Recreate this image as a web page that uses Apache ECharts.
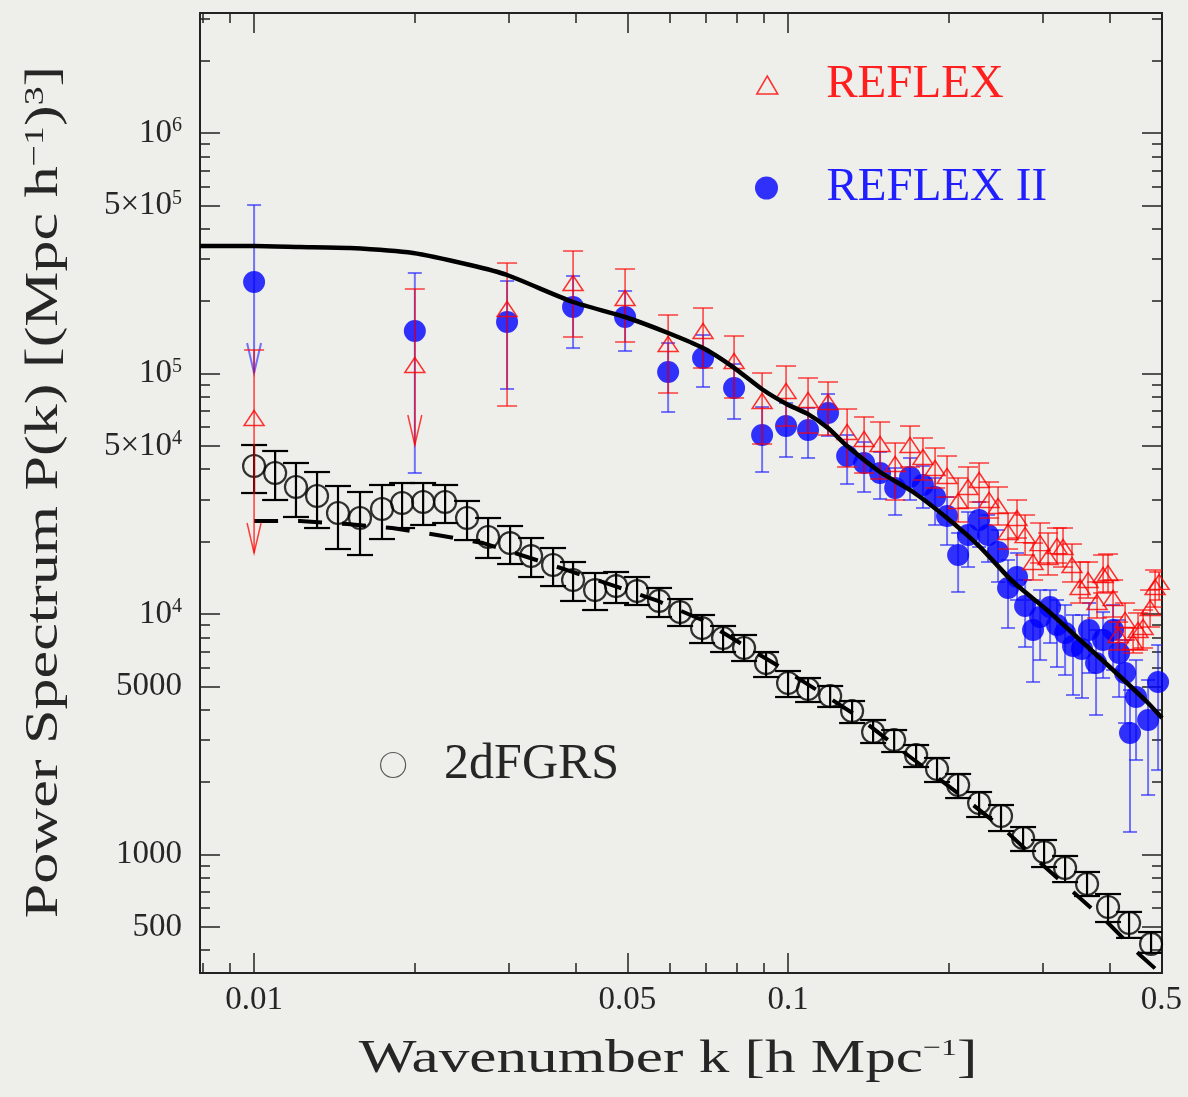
<!DOCTYPE html>
<html>
<head>
<meta charset="utf-8">
<title>Power spectrum: REFLEX, REFLEX II and 2dFGRS</title>
<script src="https://cdn.jsdelivr.net/npm/echarts@6/dist/echarts.min.js"></script>
<style>
  html, body { margin: 0; padding: 0; background: #eeefea; }
  #chart { width: 1188px; height: 1097px; }
</style>
</head>
<body>
<div id="chart"></div>
<script>
// ---- axis ranges and ticks ----
const kRange = [0.00792, 0.5015];
const pRange = [321.6, 3.155e6];

const xMajorTicks = [0.01, 0.05, 0.1, 0.5];
const xMajorText = ['0.01', '0.05', '0.1', '0.5'];
const xMinorTicks = [0.008, 0.009, 0.02, 0.03, 0.04, 0.06, 0.07, 0.08, 0.09, 0.2, 0.3, 0.4];

const yMajorTicks = [500, 1000, 5000, 1e4, 5e4, 1e5, 5e5, 1e6];
const yMajorText = ['500', '1000', '5000', '{m|10}{e|4}', '{m|5×10}{e|4}', '{m|10}{e|5}', '{m|5×10}{e|5}', '{m|10}{e|6}'];
const yMinorTicks = [400, 600, 700, 800, 900, 2000, 3000, 4000, 6000, 7000, 8000, 9000,
  2e4, 3e4, 4e4, 6e4, 7e4, 8e4, 9e4, 2e5, 3e5, 4e5, 6e5, 7e5, 8e5, 9e5, 2e6, 3e6];

// ---- 2dFGRS galaxy power spectrum ----
const twodfK = [0.01000, 0.01095, 0.01198, 0.01312, 0.01436, 0.01579, 0.01736, 0.01893, 0.02073, 0.02279,
  0.02505, 0.02743, 0.03016, 0.03302, 0.03630, 0.03957, 0.04351, 0.04764, 0.05215, 0.05733,
  0.06278, 0.06902, 0.07556, 0.08272, 0.09095, 0.1000, 0.1090, 0.1199, 0.1318, 0.1443,
  0.1580, 0.1737, 0.1901, 0.2082, 0.2279, 0.2505, 0.2755, 0.3016, 0.3302, 0.3630,
  0.3974, 0.4351, 0.4784];
const twodfP = [41250, 38570, 33740, 30950, 26300, 25070, 27330, 28940, 29220, 29220,
  25070, 20900, 19730, 17420, 15990, 13850, 12580, 13070, 12460, 11330,
  10190, 8744, 7946, 7223, 6254, 5165, 4877, 4560, 3952, 3231,
  2993, 2593, 2267, 1945, 1637, 1446, 1171, 1024, 879, 754,
  605, 519, 425];
const twodfHi = [50430, 47620, 42450, 38940, 34060, 32160, 34390, 35050, 35050, 34390,
  29510, 25070, 23220, 20700, 18810, 16450, 14810, 14950, 14250, 12830,
  11540, 9905, 8916, 8179, 6950, 5794, 5418, 5020, 4347, 3625,
  3293, 2853, 2520, 2162, 1819, 1606, 1301, 1149, 986, 846,
  685, 577, 476];
const twodfLo = [31850, 29790, 25320, 22780, 18630, 17590, 20500, 22780, 23450, 23900,
  20300, 17100, 16140, 14250, 13070, 11330, 10390, 11110, 10900, 9717,
  8916, 7575, 6950, 6375, 5470, 4517, 4306, 4106, 3521, 2908,
  2668, 2311, 2002, 1717, 1432, 1252, 1034, 887, 768, 672,
  524, 450, 390];

// ---- REFLEX cluster power spectrum ----
const reflexK = [0.01, 0.02, 0.02977, 0.03957, 0.04952, 0.05962, 0.06931, 0.07923, 0.08941, 0.09914,
  0.1090, 0.1188, 0.1290, 0.1388, 0.1487, 0.1587, 0.1692, 0.1789, 0.1885, 0.1985,
  0.2082, 0.2173, 0.2279, 0.2379, 0.2473, 0.2582, 0.2684, 0.2779, 0.2876, 0.2965,
  0.3069, 0.3189, 0.3273, 0.3402, 0.3523, 0.3646, 0.3790, 0.3890, 0.3974, 0.4061,
  0.4150, 0.4277, 0.4427, 0.4523, 0.4622, 0.4764, 0.4868, 0.4953];
const reflexP = [65310, 108470, 185430, 237850, 206000, 132630, 150200, 112700, 76870, 84580,
  77600, 76130, 57120, 53420, 50920, 42050, 50430, 44960, 40470, 37490,
  29510, 33740, 36070, 29790, 28130, 21930, 25070, 21300, 16450, 19730,
  17260, 19170, 18990, 15990, 12950, 13850, 11220, 14530, 14810, 11655,
  8179, 9442, 7649, 8580, 8829, 10590, 12950, 13590];
const reflexHi = [125250, 224600, 288000, 323100, 271960, 175100, 187200, 143200, 100480, 107440,
  95790, 92200, 71190, 65950, 62860, 51400, 60480, 53930, 49000, 45390,
  36770, 40860, 42450, 35390, 33740, 26300, 29790, 25800, 19730, 23900,
  21720, 22780, 22780, 19540, 16450, 16450, 13590, 17590, 17760, 13850,
  9263, 11110, 8744, 10100, 10390, 12580, 15240, 14950];
const reflexLo = [17930, 50430, 73270, 141830, 135210, 82970, 105400, 79100, 50920, 60480,
  56560, 55490, 40860, 38570, 36420, 29790, 40860, 36070, 33420, 30650,
  24130, 27590, 29220, 25070, 23450, 18630, 20700, 17590, 13850, 16300,
  14530, 16300, 15680, 13590, 11110, 11655, 9625, 12230, 12350, 9717,
  7085, 7796, 6885, 7085, 7223, 8829, 10690, 11435];
// bins whose lower end is an upper-limit arrow
const reflexLimitK = [0.01, 0.02];

// ---- REFLEX II cluster power spectrum ----
const reflex2K = [0.01, 0.02, 0.02977, 0.03957, 0.04952, 0.05962, 0.06931, 0.07923, 0.08941, 0.09914,
  0.1090, 0.1188, 0.1290, 0.1388, 0.1487, 0.1587, 0.1692, 0.1789, 0.1885, 0.1985,
  0.2082, 0.2173, 0.2279, 0.2369, 0.2473, 0.2582, 0.2684, 0.2779, 0.2876, 0.2965,
  0.3095, 0.3189, 0.3302, 0.3417, 0.3552, 0.3661, 0.3774, 0.3890, 0.4061, 0.4168,
  0.4277, 0.4369, 0.4484, 0.4723, 0.4931];
const reflex2P = [240200, 150200, 163760, 189000, 171800, 101440, 115990, 87030, 55490, 60480,
  58230, 68530, 45390, 42450, 38570, 33420, 37130, 34390, 30650, 25560,
  17590, 21300, 24600, 21300, 18110, 12830, 14250, 10800, 8580, 9717,
  10690, 9000, 8337, 7362, 7153, 8580, 6254, 7796, 8580, 6885,
  5685, 3199, 4517, 3625, 5217];
const reflex2Hi = [501800, 261800, 242500, 254400, 220300, 133880, 144600, 109520, 72560, 75390,
  71870, 82180, 55490, 51890, 47160, 40470, 44530, 41250, 36770, 30650,
  21720, 26550, 29220, 25800, 22350, 16770, 17930, 13850, 11435, 12580,
  12580, 11435, 10900, 9905, 9905, 11110, 8580, 10190, 10900, 9442,
  7796, 4831, 6436, 5317, 7431];
const reflex2Lo = [100480, 38570, 86220, 127600, 124050, 69180, 87880, 64700, 38940, 44960,
  44530, 54960, 34720, 32160, 30080, 25800, 29790, 27590, 23450, 19360,
  12350, 15680, 18990, 16450, 13590, 8744, 11435, 7292, 5217, 6436,
  7575, 6020, 5577, 4605, 4474, 5685, 3802, 5418, 5851, 4517,
  3521, 1241, 2471, 1768, 2245];
const reflex2LimitK = [0.01];

// ---- model curves ----
const clusterModelK = [0.00792, 0.01, 0.01219, 0.01512, 0.01985, 0.02538, 0.02977, 0.03957, 0.04952, 0.05962,
  0.06931, 0.07889, 0.08941, 0.09957, 0.1090, 0.1188, 0.1290, 0.1487, 0.1714, 0.1985,
  0.2289, 0.2639, 0.3055, 0.3523, 0.4061, 0.4702, 0.5015];
const clusterModelP = [338900, 338900, 335700, 332500, 316960, 282500, 256800, 198300, 171800, 147400,
  127600, 106400, 86000, 74500, 67800, 59340, 49940, 38940, 32160, 25070,
  18990, 13590, 10390, 7796, 5851, 4306, 3695];

const galaxyModelK = [0.01, 0.01219, 0.01494, 0.01813, 0.02201, 0.02685, 0.03245, 0.03906, 0.04742, 0.05707,
  0.06902, 0.08131, 0.09660, 0.1148, 0.1346, 0.1573, 0.1845, 0.2173, 0.2571, 0.2926,
  0.3402, 0.3957, 0.4562, 0.4972];
const galaxyModelP = [24360, 24360, 23670, 22780, 21300, 19730, 17260, 15090, 13070, 11330,
  9442, 7575, 6020, 4738, 3766, 2881, 2203, 1669, 1241, 949,
  705, 524, 382, 322];

// ---- styling ----
const SERIF = '"Liberation Serif", "DejaVu Serif", serif';
const INK = '#262626';
const FRAME = '#222222';
const RED = '#ff0000';
const RED_BAR = 'rgba(255,0,0,0.75)';
const BLUE = '#0000ff';
const BLUE_BAR = 'rgba(30,30,255,0.6)';

const rows = (k, p) => k.map((v, i) => [v, p[i]]);
const barRows = (k, p, lo, hi, limits) =>
  k.map((v, i) => [v, p[i], lo[i], hi[i], limits.indexOf(v) >= 0 ? 1 : 0]);

function tickText(ticks, texts) {
  return function (v) {
    for (let i = 0; i < ticks.length; i++) {
      if (Math.abs(ticks[i] - v) / ticks[i] < 1e-6) return texts[i];
    }
    return '';
  };
}

// vertical error bar with caps; a flagged lower end becomes an arrow
function errorBars(capHalf, color, width) {
  return function (params, api) {
    const k = api.value(0);
    const top = api.coord([k, api.value(3)]);
    const bot = api.coord([k, api.value(2)]);
    const st = { stroke: color, lineWidth: width, fill: null };
    const kids = [
      { type: 'line', shape: { x1: top[0], y1: top[1], x2: bot[0], y2: bot[1] }, style: st },
      { type: 'line', shape: { x1: top[0] - capHalf, y1: top[1], x2: top[0] + capHalf, y2: top[1] }, style: st }
    ];
    if (api.value(4) === 1) {
      kids.push({ type: 'polyline',
        shape: { points: [[bot[0] - 7, bot[1] - 30], [bot[0], bot[1]], [bot[0] + 7, bot[1] - 30]] },
        style: st });
    } else {
      kids.push({ type: 'line', shape: { x1: bot[0] - capHalf, y1: bot[1], x2: bot[0] + capHalf, y2: bot[1] }, style: st });
    }
    return { type: 'group', children: kids };
  };
}

function logAxis(position, range, ticks, len, showLine, label) {
  return {
    type: 'log', logBase: 10, position: position, gridIndex: 0,
    min: range[0], max: range[1],
    splitLine: { show: false },
    axisPointer: { show: false },
    axisLine: { show: showLine, onZero: false, lineStyle: { color: FRAME, width: 2 } },
    axisTick: { show: true, inside: true, length: len, customValues: ticks,
      lineStyle: { color: FRAME, width: 1.5 } },
    axisLabel: label || { show: false }
  };
}

const xLabel = {
  show: true, customValues: xMajorTicks, formatter: tickText(xMajorTicks, xMajorText),
  margin: 11, color: INK, fontFamily: SERIF, fontSize: 33
};
const yLabel = {
  show: true, customValues: yMajorTicks, formatter: tickText(yMajorTicks, yMajorText),
  margin: 18, color: INK, fontFamily: SERIF, fontSize: 33,
  rich: {
    m: { fontFamily: SERIF, fontSize: 33, color: INK, lineHeight: 34 },
    e: { fontFamily: SERIF, fontSize: 20, color: INK, verticalAlign: 'top' }
  }
};

const TRIANGLE_ICON = 'path://M10.5,0L21,18L0,18Z';

const option = {
  backgroundColor: '#eeefea',
  animation: false,
  grid: { left: 200, right: 26, top: 13, bottom: 124, containLabel: false, outerBoundsMode: 'none' },
  xAxis: [
    logAxis('bottom', kRange, xMajorTicks, 20, true, xLabel),
    logAxis('bottom', kRange, xMinorTicks, 10, false),
    logAxis('top', kRange, xMajorTicks, 20, true),
    logAxis('top', kRange, xMinorTicks, 10, false)
  ],
  yAxis: [
    logAxis('left', pRange, yMajorTicks, 20, true, yLabel),
    logAxis('left', pRange, yMinorTicks, 10, false),
    logAxis('right', pRange, yMajorTicks, 20, true),
    logAxis('right', pRange, yMinorTicks, 10, false)
  ],
  legend: [
    {
      data: [{ name: 'REFLEX', icon: TRIANGLE_ICON,
        itemStyle: { color: 'rgba(0,0,0,0)', borderColor: RED, borderWidth: 1.5 } }],
      left: 756, top: 57, padding: 0, itemWidth: 108, itemHeight: 18, selectedMode: false,
      textStyle: { color: '#ff1f1f', fontFamily: SERIF, fontSize: 47, lineHeight: 56 }
    },
    {
      data: [{ name: 'REFLEX II', icon: 'circle', itemStyle: { color: BLUE, borderWidth: 0 } }],
      left: 755, top: 160, padding: 0, itemWidth: 110, itemHeight: 23, selectedMode: false,
      textStyle: { color: '#1f1fff', fontFamily: SERIF, fontSize: 47, lineHeight: 56 }
    },
    {
      data: [{ name: '2dFGRS', icon: 'circle',
        itemStyle: { color: 'rgba(0,0,0,0)', borderColor: '#333333', borderWidth: 1.2 } }],
      left: 380, top: 737, padding: 0, itemWidth: 92, itemHeight: 25, selectedMode: false,
      textStyle: { color: INK, fontFamily: SERIF, fontSize: 50, lineHeight: 56 }
    }
  ],
  graphic: [
    {
      type: 'text', x: 45, y: 492, rotation: Math.PI / 2, scaleX: 1.35, silent: true,
      style: {
        text: 'Power Spectrum P(k) [(Mpc h{s|−1}){s|3}]',
        fontFamily: SERIF, fontSize: 46, fill: INK,
        align: 'center', verticalAlign: 'middle',
        rich: { s: { fontFamily: SERIF, fontSize: 28, fill: INK, verticalAlign: 'top' } }
      }
    },
    {
      type: 'text', x: 668, y: 1060, scaleX: 1.33, silent: true,
      style: {
        text: 'Wavenumber k [h Mpc{s|−1}]',
        fontFamily: SERIF, fontSize: 46, fill: INK,
        align: 'center', verticalAlign: 'middle',
        rich: { s: { fontFamily: SERIF, fontSize: 24, fill: INK, verticalAlign: 'top' } }
      }
    }
  ],
  series: [
    {
      type: 'custom', name: '2dFGRS errors', silent: true, clip: true, z: 2,
      renderItem: errorBars(13, '#000000', 2.2),
      encode: { x: 0, y: 1 },
      data: barRows(twodfK, twodfP, twodfLo, twodfHi, [])
    },
    {
      type: 'scatter', name: '2dFGRS', silent: true, z: 3,
      symbol: 'circle', symbolSize: 22,
      itemStyle: { color: 'rgba(0,0,0,0)', borderColor: '#000000', borderWidth: 2.2 },
      data: rows(twodfK, twodfP)
    },
    {
      type: 'line', name: '2dFGRS model', silent: true, z: 4, showSymbol: false, symbol: 'none',
      lineStyle: { color: '#000000', width: 4, type: [24, 20] },
      data: rows(galaxyModelK, galaxyModelP)
    },
    {
      type: 'custom', name: 'REFLEX II errors', silent: true, clip: true, z: 5,
      renderItem: errorBars(7, BLUE_BAR, 2),
      encode: { x: 0, y: 1 },
      data: barRows(reflex2K, reflex2P, reflex2Lo, reflex2Hi, reflex2LimitK)
    },
    {
      type: 'scatter', name: 'REFLEX II', silent: true, z: 6,
      symbol: 'circle', symbolSize: 22,
      itemStyle: { color: BLUE },
      data: rows(reflex2K, reflex2P)
    },
    {
      type: 'custom', name: 'REFLEX errors', silent: true, clip: true, z: 7,
      renderItem: errorBars(10, RED_BAR, 1.5),
      encode: { x: 0, y: 1 },
      data: barRows(reflexK, reflexP, reflexLo, reflexHi, reflexLimitK)
    },
    {
      type: 'scatter', name: 'REFLEX', silent: true, z: 8,
      symbol: 'triangle', symbolSize: [20, 15],
      itemStyle: { color: 'rgba(0,0,0,0)', borderColor: RED, borderWidth: 1.5 },
      data: rows(reflexK, reflexP)
    },
    {
      type: 'line', name: 'Cluster model', silent: true, z: 9, showSymbol: false, symbol: 'none',
      smooth: 0.2,
      lineStyle: { color: '#000000', width: 4.5 },
      data: rows(clusterModelK, clusterModelP)
    }
  ]
};

const chart = echarts.init(document.getElementById('chart'), null, { renderer: 'canvas' });
chart.setOption(option);
</script>
</body>
</html>
